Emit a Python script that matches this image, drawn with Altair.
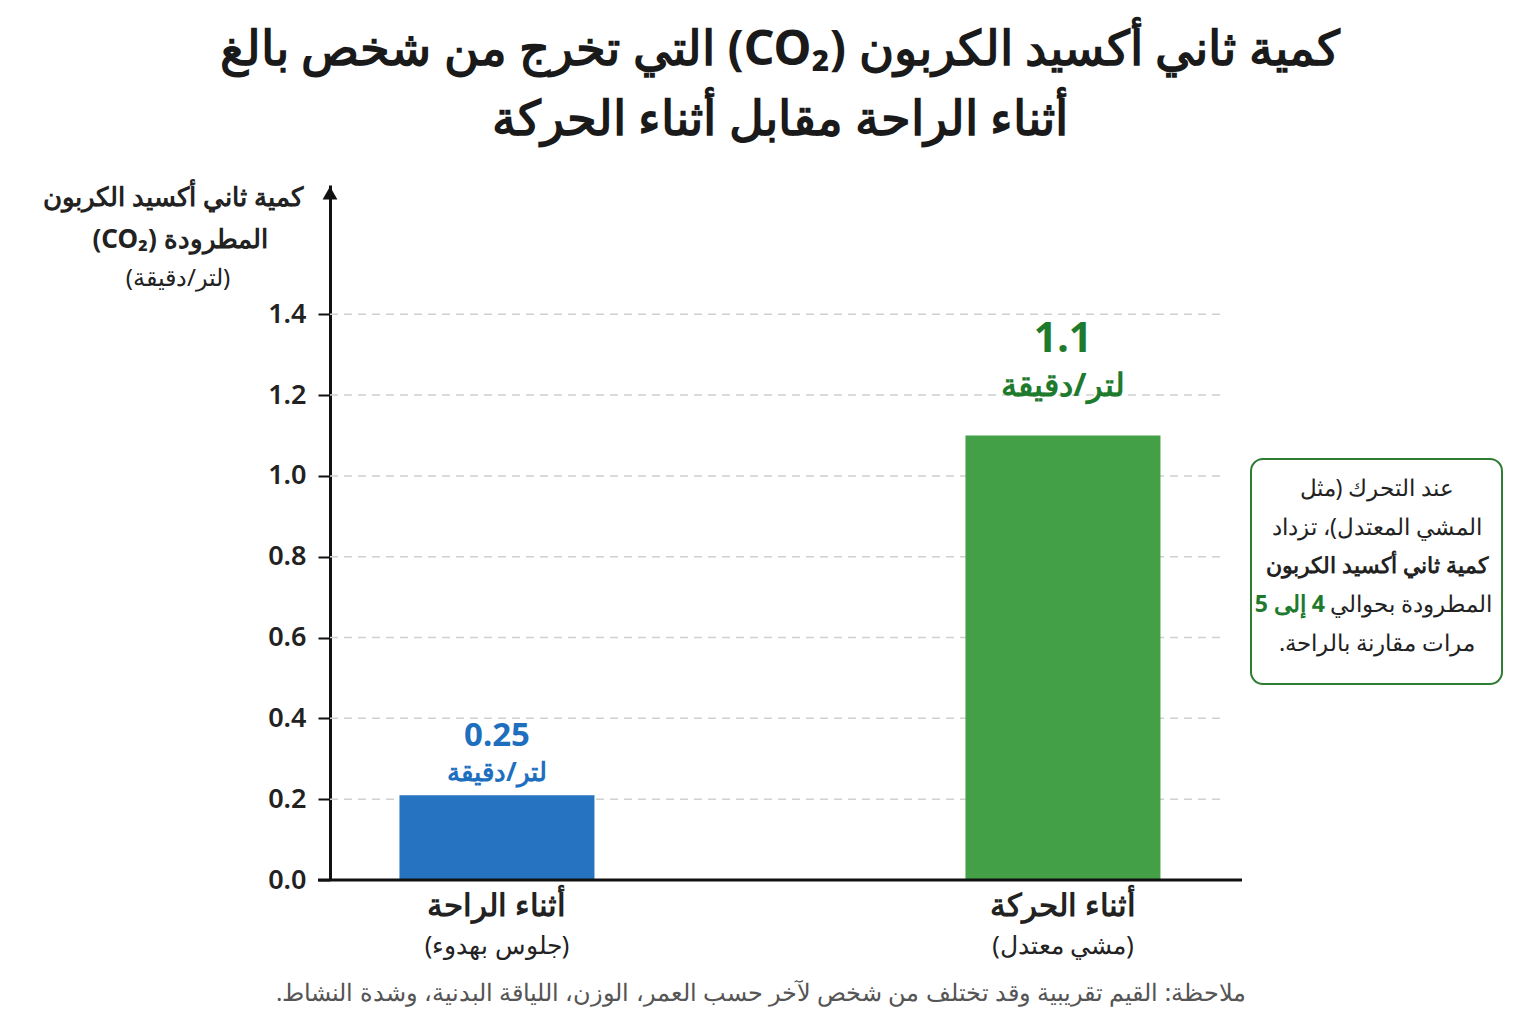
import altair as alt
import pandas as pd

RLE, PDF = "\u202B", "\u202C"
def rtl(s):
    return RLE + s + PDF

# ---- data ----
categories = ["أثناء الراحة", "أثناء الحركة"]
sub_labels = ["(جلوس بهدوء)", "(مشي معتدل)"]
values = [0.21, 1.1]
value_labels = ["0.25", "1.1"]
unit_label = "لتر/دقيقة"
tick_values = [0.0, 0.2, 0.4, 0.6, 0.8, 1.0, 1.2, 1.4]

title_lines = ["كمية ثاني أكسيد الكربون (CO₂) التي تخرج من شخص بالغ", "أثناء الراحة مقابل أثناء الحركة"]
y_title_lines = ["كمية ثاني أكسيد الكربون", "المطرودة (CO₂)", "(لتر/دقيقة)"]
box_lines = ["عند التحرك (مثل", "المشي المعتدل)، تزداد", "كمية ثاني أكسيد الكربون", "المطرودة بحوالي", "مرات مقارنة بالراحة."]
box_highlight = "4 إلى 5"
note = "ملاحظة: القيم تقريبية وقد تختلف من شخص لآخر حسب العمر، الوزن، اللياقة البدنية، وشدة النشاط."

colors = ["#2673c2", "#43a047"]
text_colors = ["#1f6fbf", "#1e7b2e"]

df = pd.DataFrame({
    "cat": categories,
    "sub": [rtl(s) for s in sub_labels],
    "catlabel": [rtl(s) for s in categories],
    "value": values,
    "vlabel": value_labels,
    "unit": [rtl(unit_label)] * 2,
})

FONT = "Noto Sans"
W, H = 912, 695

xenc = alt.X("cat:N", sort=categories,
             scale=alt.Scale(paddingInner=0.6555, paddingOuter=0.1334, align=0.46),
             axis=None)
yscale = alt.Scale(domain=[0, 1.72], nice=False, zero=True)

base = alt.Chart(df)

grid = alt.Chart(pd.DataFrame({"t": tick_values[1:]})).mark_rule(
    color="#d0d0d0", strokeDash=[8, 6], strokeWidth=1.5
).encode(y=alt.Y("t:Q", scale=yscale), x=alt.value(0), x2=alt.value(895))

bars = base.mark_bar().encode(
    x=xenc,
    y=alt.Y("value:Q", scale=yscale,
            axis=alt.Axis(values=tick_values, format=".1f", grid=False, domain=True,
                          domainColor="#111", domainWidth=3, tickSize=12, tickWidth=2,
                          tickColor="#111", labelFontSize=27, labelColor="#222",
                          labelFont=FONT, labelFontWeight=600, labelPadding=12, title=None)),
    color=alt.Color("cat:N", sort=categories,
                    scale=alt.Scale(domain=categories, range=colors), legend=None),
)

xaxis_line = alt.Chart(pd.DataFrame({"z": [0]})).mark_rule(color="#111", strokeWidth=3).encode(
    y=alt.Y("z:Q", scale=yscale), x=alt.value(-12), x2=alt.value(W))

arrow = alt.Chart(pd.DataFrame({"z": [0]})).mark_point(
    shape="triangle-up", filled=True, color="#111", size=220, opacity=1
).encode(x=alt.value(0), y=alt.value(8))

def vtext(i, field, size, dy):
    return base.transform_filter(alt.datum.cat == categories[i]).mark_text(
        font=FONT, fontSize=size, fontWeight="bold", color=text_colors[i], dy=dy, baseline="middle"
    ).encode(x=xenc, y=alt.Y("value:Q", scale=yscale), text=f"{field}:N")

vals = [
    vtext(0, "vlabel", 33, -59), vtext(0, "unit", 26, -22),
    vtext(1, "vlabel", 41, -96), vtext(1, "unit", 32, -50),
]

cat_text = base.mark_text(font=FONT, fontSize=31, fontWeight="bold", color="#222", baseline="middle").encode(
    x=xenc, y=alt.value(722), text="catlabel:N")
sub_text = base.mark_text(font=FONT, fontSize=25, color="#222", baseline="middle").encode(
    x=xenc, y=alt.value(761), text="sub:N")

def free_text(s, x, y, size, weight="normal", color="#222", align="center"):
    return alt.Chart(pd.DataFrame({"s": [rtl(s)]})).mark_text(
        font=FONT, fontSize=size, fontWeight=weight, color=color, align=align, baseline="middle"
    ).encode(x=alt.value(x), y=alt.value(y), text="s:N")

ytitle = [
    free_text(y_title_lines[0], -157, 13, 26, "bold"),
    free_text(y_title_lines[1], -150, 55, 26, "bold"),
    free_text(y_title_lines[2], -152, 94, 24),
]

box = alt.Chart(pd.DataFrame({"z": [0]})).mark_rect(
    fill="white", stroke="#2e7d32", strokeWidth=2, cornerRadius=12
).encode(x=alt.value(921), x2=alt.value(1172), y=alt.value(274), y2=alt.value(499))

box_texts = [
    free_text(box_lines[0], 1047, 304, 23),
    free_text(box_lines[1], 1047, 343, 23),
    free_text(box_lines[2], 1047, 381, 22, "bold"),
    free_text(box_lines[3], 1000, 420, 23, align="left"),
    free_text(box_highlight, 995, 420, 23, "bold", "#1e7b2e", align="right"),
    free_text(box_lines[4], 1047, 459, 23),
]

note_text = free_text(note, 431, 809, 24, color="#555")

chart = alt.layer(
    grid, bars, xaxis_line, arrow, *vals, cat_text, sub_text, *ytitle, box, *box_texts, note_text
).properties(
    width=W, height=H,
    title=alt.TitleParams([rtl(t) for t in title_lines], font=FONT, fontSize=48, fontWeight="bold",
                          color="#1a1a1a", anchor="middle", offset=40, dx=-6, lineHeight=70),
    autosize=alt.AutoSizeParams(type="none"),
    padding={"left": 330, "top": 185, "right": 294, "bottom": 144},
).configure(background="white").configure_view(stroke=None, strokeWidth=0)

chart.save("out.html", embed_options={"renderer": "svg", "actions": False})
